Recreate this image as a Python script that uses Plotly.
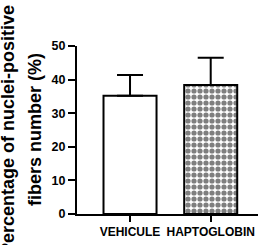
import plotly.graph_objects as go

categories = ["VEHICULE", "HAPTOGLOBIN"]
means = [35.2, 38.4]
err_up = [6.2, 8.1]
y_ticks = [0, 10, 20, 30, 40, 50]
title_lines = ["Percentage of nuclei-positive", "fibers number (%)"]

FONT = "Liberation Sans, Arial, sans-serif"

fig = go.Figure()
# Vehicule: plain white bar
fig.add_trace(go.Bar(
    x=[0], y=[means[0]],
    width=0.657,
    marker=dict(color="white", line=dict(color="black", width=2)),
    error_y=dict(type="data", array=[err_up[0]], arrayminus=[0], symmetric=False,
                 color="black", thickness=2, width=13),
    showlegend=False,
))
# Haptoglobin: checkered bar
fig.add_trace(go.Bar(
    x=[1], y=[means[1]],
    width=0.657,
    marker=dict(
        color="white",
        line=dict(color="black", width=2),
        pattern=dict(shape=".", fgcolor="black", bgcolor="white",
                     size=6, solidity=0.6),
    ),
    error_y=dict(type="data", array=[err_up[1]], arrayminus=[0], symmetric=False,
                 color="black", thickness=2, width=13),
    showlegend=False,
))

fig.update_layout(
    width=263, height=245,
    margin=dict(l=77, r=5, t=46, b=31),
    paper_bgcolor="white", plot_bgcolor="white",
    font=dict(family=FONT, size=12, color="black"),
    barmode="overlay",
    xaxis=dict(
        range=[-0.657, 1.586],
        tickvals=[0, 1], ticktext=[f"<b>{c}</b>" for c in categories],
        showline=True, linecolor="black", linewidth=2,
        ticks="outside", ticklen=6, tickwidth=2, tickcolor="black",
        showgrid=False, zeroline=False,
        tickfont=dict(size=12, family=FONT),
    ),
    yaxis=dict(
        range=[0, 50],
        tickvals=y_ticks, ticktext=[f"<b>{v}</b>" for v in y_ticks],
        showline=True, linecolor="black", linewidth=2,
        ticks="outside", ticklen=7, tickwidth=2, tickcolor="black",
        showgrid=False, zeroline=False,
        tickfont=dict(size=12.5, family=FONT),
    ),
)

fig.add_annotation(text=f"<b>{title_lines[0]}</b>", xref="paper", yref="paper",
                   x=0, y=0.5, xanchor="center", yanchor="middle",
                   xshift=-77 + 8, textangle=-90, showarrow=False,
                   font=dict(size=18, family=FONT, color="black"))
fig.add_annotation(text=f"<b>{title_lines[1]}</b>", xref="paper", yref="paper",
                   x=0, y=0.5, xanchor="center", yanchor="middle",
                   xshift=-77 + 35, textangle=-90, showarrow=False,
                   font=dict(size=18, family=FONT, color="black"))

fig.write_html("out.html", config={"displayModeBar": False},
               post_script="document.body.style.margin='0';document.body.style.overflow='hidden';")
